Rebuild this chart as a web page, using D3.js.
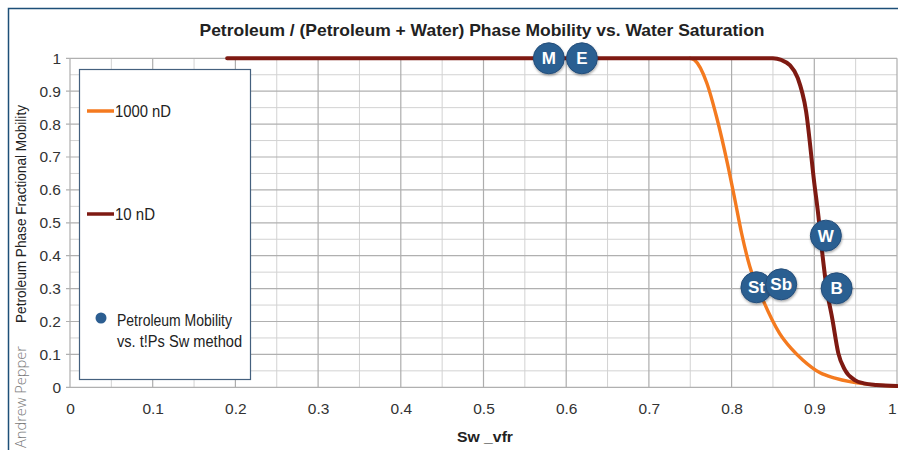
<!DOCTYPE html>
<html><head><meta charset="utf-8">
<script src="https://cdn.jsdelivr.net/npm/d3@7"></script>
<style>body{margin:0;background:#fff;}svg{display:block;font-family:"Liberation Sans",Arial,sans-serif;}</style>
</head><body><svg id="c" width="898" height="450"></svg>
<script>
const title = "Petroleum / (Petroleum + Water) Phase Mobility vs. Water Saturation";
const xTitle = "Sw _vfr";
const yTitle = "Petroleum Phase Fractional Mobility";
const credit = "Andrew Pepper";
const xTicks = [0,0.1,0.2,0.3,0.4,0.5,0.6,0.7,0.8,0.9,1];
const yTicks = [0,0.1,0.2,0.3,0.4,0.5,0.6,0.7,0.8,0.9,1];
const xTickLabels = ["0","0.1","0.2","0.3","0.4","0.5","0.6","0.7","0.8","0.9","1"];
const yTickLabels = ["0","0.1","0.2","0.3","0.4","0.5","0.6","0.7","0.8","0.9","1"];

// 10 nD curve
const sw10 = [0.19,0.85,0.86,0.87,0.88,0.89,0.90,0.905,0.91,0.915,0.922,0.929,0.937,0.949,0.96,0.975,1.0];
const mob10 = [1.0,1.0,0.995,0.98,0.94,0.84,0.62,0.52,0.40,0.30,0.205,0.104,0.053,0.022,0.012,0.007,0.004];
// 1000 nD curve
const sw1000 = [0.75,0.755,0.77,0.782,0.795,0.804,0.812,0.822,0.838,0.858,0.872,0.886,0.907,0.925,0.943,0.97,1.0];
const mob1000 = [1.0,0.995,0.925,0.82,0.68,0.57,0.469,0.367,0.265,0.164,0.118,0.083,0.044,0.028,0.017,0.008,0.003];

// Petroleum Mobility vs. t!Ps Sw method points
const ptLabels = ["M","E","W","St","Sb","B"];
const ptSw = [0.579,0.619,0.914,0.83,0.86,0.927];
const ptMob = [1.0,1.0,0.461,0.304,0.313,0.301];

const legendLabels = ["1000 nD","10 nD","Petroleum Mobility","vs. t!Ps Sw method"];

const NARROW = "'Liberation Sans Narrow','Liberation Sans',Arial,sans-serif";
const svg = d3.select("#c");
const x = d3.scaleLinear().domain([0,1]).range([70,897]);
const y = d3.scaleLinear().domain([0,1]).range([387.3,58.3]);

// outer frame
svg.append("path").attr("d","M8.5,450 L8.5,8.5 L898,8.5").attr("fill","none").attr("stroke","#1d4f78").attr("stroke-width",1.5);

// minor grid
const minor = d3.range(0.05,1.0,0.1);
const g = svg.append("g");
g.selectAll("line.mx").data(minor).join("line").attr("x1",d=>x(d)).attr("x2",d=>x(d)).attr("y1",y(0)).attr("y2",y(1))
  .attr("stroke","#d2d2d2").attr("stroke-width",1);
g.selectAll("line.my").data(minor).join("line").attr("y1",d=>y(d)).attr("y2",d=>y(d)).attr("x1",x(0)).attr("x2",x(1))
  .attr("stroke","#d2d2d2").attr("stroke-width",1);
// major grid
g.selectAll("line.gx").data(xTicks).join("line").attr("x1",d=>x(d)).attr("x2",d=>x(d)).attr("y1",y(0)).attr("y2",y(1))
  .attr("stroke","#adadad").attr("stroke-width",1.2);
g.selectAll("line.gy").data(yTicks).join("line").attr("y1",d=>y(d)).attr("y2",d=>y(d)).attr("x1",x(0)-4).attr("x2",x(1))
  .attr("stroke","#b0b0b0").attr("stroke-width",1.2);

// axes labels
const yAxis = d3.axisLeft(y).tickValues(yTicks).tickFormat((d,i)=>yTickLabels[i]).tickSize(0).tickPadding(9);
const ya = svg.append("g").attr("transform",`translate(${x(0)},0)`).call(yAxis);
ya.select(".domain").remove();
ya.selectAll("text").attr("font-size",15.5).attr("fill","#333").attr("font-family",NARROW);
const xAxis = d3.axisBottom(x).tickValues(xTicks).tickFormat((d,i)=>xTickLabels[i]).tickSize(0).tickPadding(16);
const xa = svg.append("g").attr("transform",`translate(0,${y(0)})`).call(xAxis);
xa.select(".domain").remove();
xa.selectAll("text").attr("font-size",15.5).attr("fill","#333").attr("font-family",NARROW);
// last label sits at the very right edge; keep it visible
xa.selectAll("text").filter((d,i)=>i===xTicks.length-1).attr("text-anchor","end").attr("dx","-1");

// curves
const line = d3.line().x(d=>x(d[0])).y(d=>y(d[1])).curve(d3.curveMonotoneX);
svg.append("path").datum(sw1000.map((s,i)=>[s,mob1000[i]])).attr("d",line)
  .attr("fill","none").attr("stroke","#f47a1f").attr("stroke-width",3.4).attr("stroke-linecap","round");
svg.append("path").datum(sw10.map((s,i)=>[s,mob10[i]])).attr("d",line)
  .attr("fill","none").attr("stroke","#7e1a12").attr("stroke-width",4).attr("stroke-linecap","round");

// points
const defs = svg.append("defs");
const f = defs.append("filter").attr("id","sh").attr("x","-30%").attr("y","-30%").attr("width","160%").attr("height","160%");
f.append("feDropShadow").attr("dx",0.5).attr("dy",1.5).attr("stdDeviation",1.2).attr("flood-color","#000").attr("flood-opacity",0.35);
const pts = svg.append("g").selectAll("g").data(ptLabels).join("g")
  .attr("transform",(d,i)=>`translate(${x(ptSw[i])},${y(ptMob[i])})`);
pts.append("circle").attr("r",15.5).attr("fill","#2c5e91").attr("stroke","#244e7a").attr("stroke-width",1).attr("filter","url(#sh)");
pts.append("text").text(d=>d).attr("text-anchor","middle").attr("dy","0.36em").attr("fill","#fff")
  .attr("font-size",17).attr("font-weight","bold").attr("font-family",NARROW);

// legend
const lg = svg.append("g");
lg.append("rect").attr("x",79.5).attr("y",69.5).attr("width",171).attr("height",310).attr("fill","#fff").attr("stroke","#44607e").attr("stroke-width",1.2);
lg.append("line").attr("x1",87).attr("x2",114).attr("y1",111).attr("y2",111).attr("stroke","#f47a1f").attr("stroke-width",3.5);
lg.append("line").attr("x1",87).attr("x2",114).attr("y1",214).attr("y2",214).attr("stroke","#7e1a12").attr("stroke-width",3.5);
lg.append("circle").attr("cx",101).attr("cy",318).attr("r",5.5).attr("fill","#2c5e91");
const lt = [[115,117,legendLabels[0],56],[115,220,legendLabels[1],40],[117,326,legendLabels[2],115],[117,347,legendLabels[3],125]];
lg.selectAll("text").data(lt).join("text").attr("x",d=>d[0]).attr("y",d=>d[1]).text(d=>d[2])
  .attr("font-size",16).attr("fill","#222").attr("font-family",NARROW)
  .attr("textLength",d=>d[3]).attr("lengthAdjust","spacingAndGlyphs");

// titles
function fit(sel,w){ sel.attr("textLength",w).attr("lengthAdjust","spacingAndGlyphs"); }
const t = svg.append("text").attr("x",482).attr("y",36).attr("text-anchor","middle").text(title)
  .attr("font-size",17).attr("font-weight","bold").attr("fill","#222").attr("font-family","'Liberation Sans',Arial,sans-serif");
fit(t,565);
const xt = svg.append("text").attr("x",457).attr("y",442).text(xTitle)
  .attr("font-size",15).attr("font-weight","bold").attr("fill","#222").attr("font-family","'Liberation Sans',Arial,sans-serif");
fit(xt,56);
const yt = svg.append("text").attr("transform","translate(26,214) rotate(-90)").attr("text-anchor","middle").text(yTitle)
  .attr("font-size",14).attr("fill","#222").attr("font-family","'Liberation Sans',Arial,sans-serif");
fit(yt,218);
const cr = svg.append("text").attr("transform","translate(26,397) rotate(-90)").attr("text-anchor","middle").text(credit)
  .attr("font-size",14).attr("fill","#7a7a7a").attr("font-family","'Open Sans',sans-serif").attr("font-weight",300);
fit(cr,102);
</script></body></html>
